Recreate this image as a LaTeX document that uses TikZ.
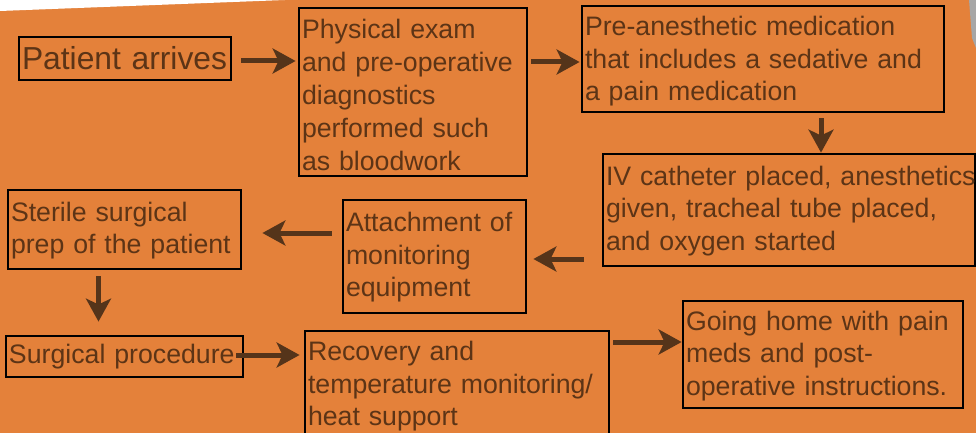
\documentclass[tikz,border=0pt]{standalone}
\usepackage{fontspec}
\setmainfont{Liberation Sans}
\usetikzlibrary{arrows.meta,calc}
\definecolor{bg}{RGB}{228,129,58}
\definecolor{txt}{RGB}{92,52,22}
\definecolor{arrc}{RGB}{85,52,26}
\begin{document}
\begin{tikzpicture}[x=1pt,y=-1pt,
  box/.style={draw=black,line width=2.8pt,align=left,inner xsep=3pt,inner ysep=0pt,
    text=txt,font=\fontsize{26.7}{32.5}\selectfont},
  txtdown/.style={execute at begin node={\rule{0pt}{\dimexpr 19.5pt+2\dimexpr #1\relax\relax}}},
  flow/.style={draw=arrc,line width=5pt,-{Stealth[length=23pt,width=25pt,inset=6pt]}}]
\useasboundingbox (0,0) rectangle (976,433);
\fill[bg] (0,0) rectangle (976,433);
\fill[white] (0,0) -- (285,0) -- (0,11) -- cycle;
\fill[gray!70] (969,0) -- (976,0) -- (976,48) -- (972,38) -- cycle;

\node[box,minimum width=212pt,minimum height=43pt,text width=206pt,
  font=\fontsize{31.8}{36}\selectfont] (pa) at (125,58.5) {\mbox{Patient arrives}};
\node[box,txtdown=3pt,minimum width=228pt,minimum height=168pt,text width=222pt,
  font=\fontsize{26.7}{33}\selectfont] (phys) at (413,92)
  {Physical exam\\and pre-operative\\diagnostics\\performed such\\as bloodwork};
\node[box,txtdown=2.5pt,minimum width=362pt,minimum height=106pt,text width=356pt] (pre) at (763,59)
  {Pre-anesthetic medication\\that includes a sedative and\\a pain medication};
\node[box,txtdown=1pt,minimum width=372pt,minimum height=112pt,text width=366pt] (iv) at (789,210)
  {\mbox{IV catheter placed, anesthetics}\\given, tracheal tube placed,\\and oxygen started};
\node[box,txtdown=1pt,minimum width=183pt,minimum height=113pt,text width=177pt] (att) at (434.5,256.5)
  {Attachment of\\monitoring\\equipment};
\node[box,txtdown=1pt,minimum width=233pt,minimum height=79pt,text width=227pt] (ster) at (124.5,229.5)
  {Sterile surgical\\prep of the patient};
\node[box,minimum width=237pt,minimum height=41pt,text width=231pt] (surg) at (124.5,356.5)
  {\mbox{Surgical procedure}};
\node[box,txtdown=1pt,minimum width=304pt,minimum height=109pt,text width=298pt] (rec) at (457,385.5)
  {Recovery and\\temperature monitoring/\\heat support};
\node[box,txtdown=1.5pt,minimum width=280pt,minimum height=107pt,text width=274pt] (home) at (823,354.5)
  {Going home with pain\\meds and post-\\operative instructions.};

% connectors
\draw[flow] ($(pa.east)+(9,2.5)$) -- ($(pa.east -| phys.west)+(-2,2.5)$);
\draw[flow] ($(pre.west -| phys.east)+(3,3)$) -- ($(pre.west)+(-1,3)$);
\coordinate (c3) at ($(pre.south)+(58,5)$);
\draw[flow] (c3) -- (c3 |- iv.north);
\draw[flow] ($(att.east -| iv.west)+(-18,2.5)$) -- ($(att.east)+(6,2.5)$);
\draw[flow] ($(ster.east -| att.west)+(-10,3.5)$) -- ($(ster.east)+(20,3.5)$);
\coordinate (c6) at ($(ster.south)+(-26,6)$);
\draw[flow] (c6) -- ($(c6 |- surg.north)+(0,-13)$);
\draw[flow] ($(surg.east)+(-8,-1.5)$) -- ($(surg.east -| rec.west)+(-4,-1.5)$);
\draw[flow] ($(home.west -| rec.east)+(3,-12.5)$) -- ($(home.west)+(0,-12.5)$);
\end{tikzpicture}
\end{document}
